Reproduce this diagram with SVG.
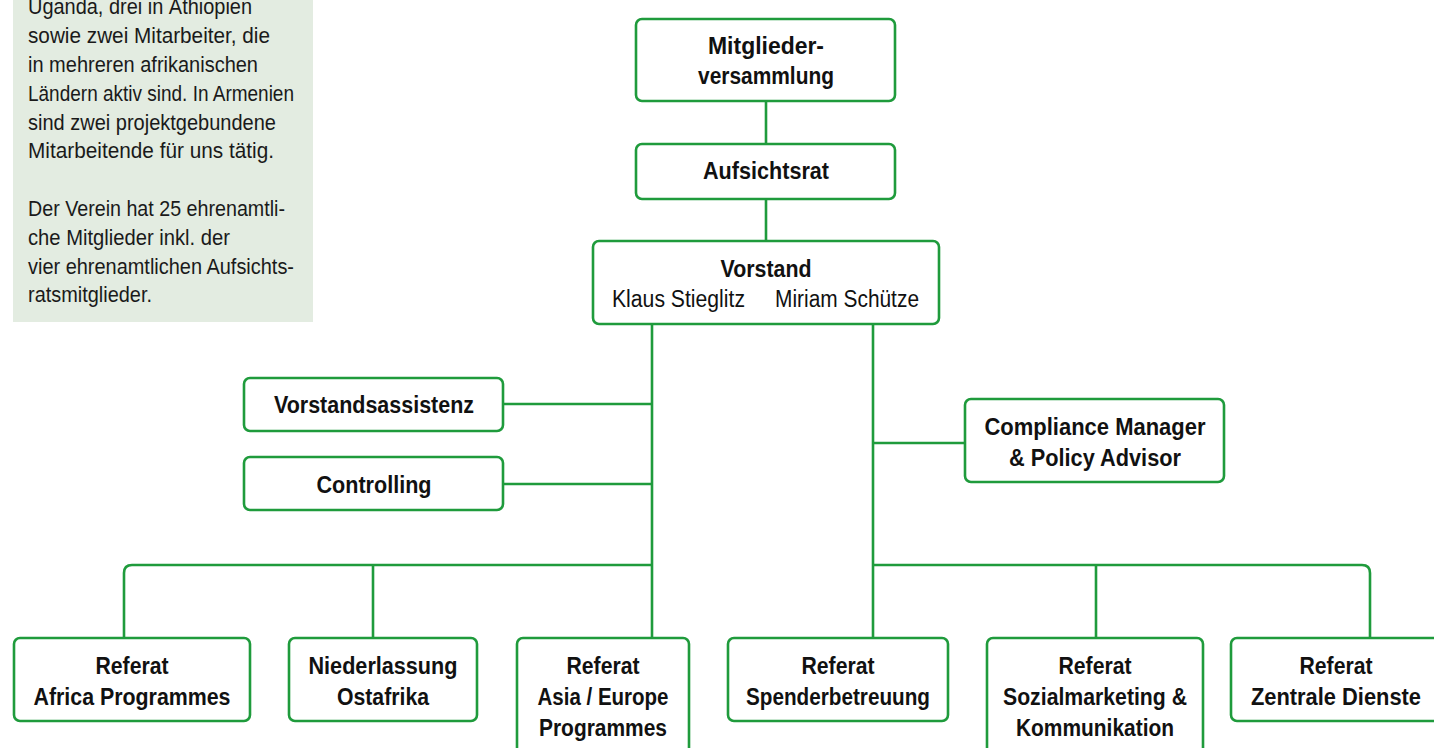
<svg xmlns="http://www.w3.org/2000/svg" width="1434" height="748" viewBox="0 0 1434 748">
<style>
.box{fill:#fff;stroke:#1f9b3c;stroke-width:2.6}
.ln{fill:none;stroke:#1f9b3c;stroke-width:2.6}
.b{font-family:"Liberation Sans",Arial,sans-serif;font-weight:bold;font-size:23px;fill:#111;text-anchor:middle}
.r{font-family:"Liberation Sans",Arial,sans-serif;font-size:23px;fill:#111}
.p{font-family:"Liberation Sans",Arial,sans-serif;font-size:22px;fill:#1a1a1a}
</style>
<rect width="1434" height="748" fill="#fff"/>
<g id="info-panel">
<rect x="13" y="-2" width="300" height="324" fill="#e3ece1"/>
<text class="p" x="28" y="14" textLength="224" lengthAdjust="spacingAndGlyphs">Uganda, drei in Äthiopien</text>
<text class="p" x="28" y="43" textLength="242" lengthAdjust="spacingAndGlyphs">sowie zwei Mitarbeiter, die</text>
<text class="p" x="28" y="72" textLength="230" lengthAdjust="spacingAndGlyphs">in mehreren afrikanischen</text>
<text class="p" x="28" y="101" textLength="266" lengthAdjust="spacingAndGlyphs">Ländern aktiv sind. In Armenien</text>
<text class="p" x="28" y="130" textLength="248" lengthAdjust="spacingAndGlyphs">sind zwei projektgebundene</text>
<text class="p" x="28" y="158" textLength="246" lengthAdjust="spacingAndGlyphs">Mitarbeitende für uns tätig.</text>
<text class="p" x="28" y="216" textLength="257" lengthAdjust="spacingAndGlyphs">Der Verein hat 25 ehrenamtli-</text>
<text class="p" x="28" y="245" textLength="202" lengthAdjust="spacingAndGlyphs">che Mitglieder inkl. der</text>
<text class="p" x="28" y="274" textLength="266" lengthAdjust="spacingAndGlyphs">vier ehrenamtlichen Aufsichts-</text>
<text class="p" x="28" y="302" textLength="124" lengthAdjust="spacingAndGlyphs">ratsmitglieder.</text>
</g>
<g id="connectors">
<path class="ln" d="M766,101V144"/>
<path class="ln" d="M766,199V241"/>
<path class="ln" d="M652,324V638"/>
<path class="ln" d="M873,324V638"/>
<path class="ln" d="M503,404H652"/>
<path class="ln" d="M503,484H652"/>
<path class="ln" d="M873,443H965"/>
<path class="ln" d="M652,565H132Q124,565 124,573V638"/>
<path class="ln" d="M373,565V638"/>
<path class="ln" d="M873,565H1362Q1370,565 1370,573V638"/>
<path class="ln" d="M1096,565V638"/>
</g>
<g id="mitgliederversammlung">
<rect class="box" x="636" y="19" width="259" height="82" rx="6"/>
<text class="b" x="766" y="54" textLength="116" lengthAdjust="spacingAndGlyphs">Mitglieder-</text>
<text class="b" x="766" y="84" textLength="136" lengthAdjust="spacingAndGlyphs">versammlung</text>
</g>
<g id="aufsichtsrat">
<rect class="box" x="636" y="144" width="259" height="55" rx="6"/>
<text class="b" x="766" y="179" textLength="126" lengthAdjust="spacingAndGlyphs">Aufsichtsrat</text>
</g>
<g id="vorstand">
<rect class="box" x="593" y="241" width="346" height="83" rx="6"/>
<text class="b" x="766" y="277" textLength="91" lengthAdjust="spacingAndGlyphs">Vorstand</text>
<text class="r" x="612" y="307" textLength="133" lengthAdjust="spacingAndGlyphs">Klaus Stieglitz</text>
<text class="r" x="775" y="307" textLength="144" lengthAdjust="spacingAndGlyphs">Miriam Schütze</text>
</g>
<g id="vorstandsassistenz">
<rect class="box" x="244" y="378" width="259" height="53" rx="6"/>
<text class="b" x="374" y="413" textLength="200" lengthAdjust="spacingAndGlyphs">Vorstandsassistenz</text>
</g>
<g id="controlling">
<rect class="box" x="244" y="457" width="259" height="53" rx="6"/>
<text class="b" x="374" y="493" textLength="115" lengthAdjust="spacingAndGlyphs">Controlling</text>
</g>
<g id="compliance">
<rect class="box" x="965" y="399" width="259" height="83" rx="6"/>
<text class="b" x="1095" y="435" textLength="221" lengthAdjust="spacingAndGlyphs">Compliance Manager</text>
<text class="b" x="1095" y="466" textLength="172" lengthAdjust="spacingAndGlyphs">&amp; Policy Advisor</text>
</g>
<g id="referat-africa">
<rect class="box" x="14" y="638" width="236" height="83" rx="6"/>
<text class="b" x="132" y="674" textLength="73" lengthAdjust="spacingAndGlyphs">Referat</text>
<text class="b" x="132" y="705" textLength="197" lengthAdjust="spacingAndGlyphs">Africa Programmes</text>
</g>
<g id="niederlassung-ostafrika">
<rect class="box" x="289" y="638" width="188" height="83" rx="6"/>
<text class="b" x="383" y="674" textLength="149" lengthAdjust="spacingAndGlyphs">Niederlassung</text>
<text class="b" x="383" y="705" textLength="92" lengthAdjust="spacingAndGlyphs">Ostafrika</text>
</g>
<g id="referat-asia-europe">
<rect class="box" x="517" y="638" width="172" height="130" rx="6"/>
<text class="b" x="603" y="674" textLength="73" lengthAdjust="spacingAndGlyphs">Referat</text>
<text class="b" x="603" y="705" textLength="131" lengthAdjust="spacingAndGlyphs">Asia / Europe</text>
<text class="b" x="603" y="736" textLength="128" lengthAdjust="spacingAndGlyphs">Programmes</text>
</g>
<g id="referat-spenderbetreuung">
<rect class="box" x="728" y="638" width="220" height="83" rx="6"/>
<text class="b" x="838" y="674" textLength="73" lengthAdjust="spacingAndGlyphs">Referat</text>
<text class="b" x="838" y="705" textLength="184" lengthAdjust="spacingAndGlyphs">Spenderbetreuung</text>
</g>
<g id="referat-sozialmarketing">
<rect class="box" x="987" y="638" width="216" height="130" rx="6"/>
<text class="b" x="1095" y="674" textLength="73" lengthAdjust="spacingAndGlyphs">Referat</text>
<text class="b" x="1095" y="705" textLength="184" lengthAdjust="spacingAndGlyphs">Sozialmarketing &amp;</text>
<text class="b" x="1095" y="736" textLength="158" lengthAdjust="spacingAndGlyphs">Kommunikation</text>
</g>
<g id="referat-zentrale-dienste">
<rect class="box" x="1231" y="638" width="240" height="83" rx="6"/>
<text class="b" x="1336" y="674" textLength="73" lengthAdjust="spacingAndGlyphs">Referat</text>
<text class="b" x="1336" y="705" textLength="170" lengthAdjust="spacingAndGlyphs">Zentrale Dienste</text>
</g>
</svg>
